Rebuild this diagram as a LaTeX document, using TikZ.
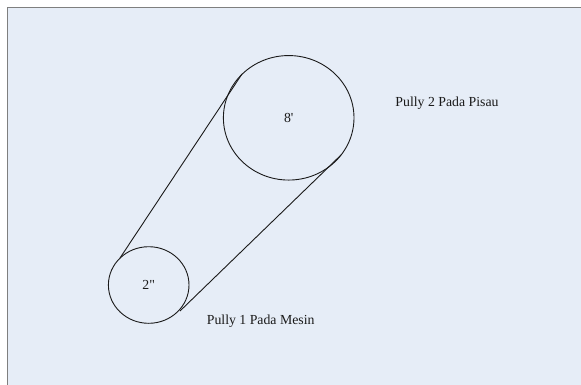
\documentclass[tikz,border=0pt]{standalone}
\usepackage{fontspec}
\newfontfamily\plainserif{Liberation Serif}
\usetikzlibrary{shapes.geometric}
\definecolor{panel}{HTML}{E6EDF7}
\definecolor{frame}{HTML}{7F7F7F}
\definecolor{ink}{HTML}{1A1A1A}
\begin{document}
\begin{tikzpicture}[x=1pt,y=-1pt,
  pulley/.style={ellipse,draw=ink,line width=0.9pt,inner sep=0pt},
  belt/.style={draw=ink,line width=0.9pt},
  lbl/.style={text=ink,font=\plainserif\fontsize{13.8}{16}\selectfont,inner sep=0pt}]
\useasboundingbox (0,0) rectangle (581,384);
\begin{scope}
\clip (0,0) rectangle (581,384);
\draw[fill=panel,draw=frame,line width=1.5pt] (7.5,7.5) rectangle (600,400);
\end{scope}
\node[pulley,lbl,minimum width=130.6pt,minimum height=124.5pt] (big) at (288.7,117.8) {8'};
\node[pulley,lbl,minimum width=80.6pt,minimum height=76.6pt] (small) at (148.7,285) {2"};
\coordinate (s1) at (120,258);
\coordinate (b1) at (242,74);
\coordinate (s2) at (180,311);
\coordinate (b2) at (341,155);
\draw[belt] (s1) -- (b1);
\draw[belt] (s2) -- (b2);
\node[lbl] (l1) at (260.7,321.5) {Pully 1 Pada Mesin};
\node[lbl] (l2) at (447,103.5) {Pully 2 Pada Pisau};
\end{tikzpicture}
\end{document}
